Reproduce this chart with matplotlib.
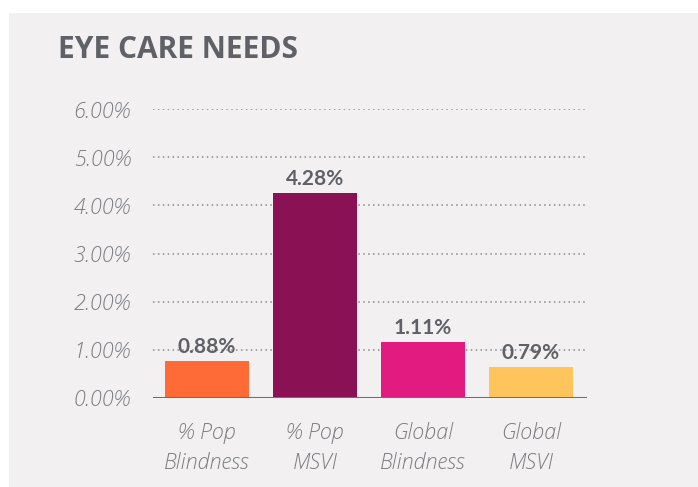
# Eye care needs - bar chart
import matplotlib.pyplot as plt
from matplotlib.patches import Rectangle

# Données
categories = ['% Pop\nBlindness', '% Pop\nMSVI', 'Global\nBlindness', 'Global\nMSVI']
hauteurs = [0.76, 4.26, 1.16, 0.64]          # hauteur des barres telle que dessinée
etiquettes = ['0.88%', '4.28%', '1.11%', '0.79%']  # valeurs affichées
couleurs = ['#ff6b37', '#8a1153', '#e21b80', '#ffc45c']
yticks = [0, 1, 2, 3, 4, 5, 6]
ytick_labels = ['0.00%', '1.00%', '2.00%', '3.00%', '4.00%', '5.00%', '6.00%']

W, H = 698, 487
fond = '#f2f0f1'
gris_texte = '#5f6166'
gris_ticks = '#7a7c80'

plt.rcParams['font.family'] = ['Lato', 'DejaVu Sans']

fig = plt.figure(figsize=(W/100, H/100), dpi=100, facecolor='white')
# panneau gris
fig.patches.append(Rectangle((9/W, -0.01), 1, 1.01 - 13/H, transform=fig.transFigure,
                             facecolor=fond, edgecolor='none', zorder=-10))

ax = fig.add_axes([153/W, (H-398)/H, (587-153)/W, (398-109)/H])
ax.set_facecolor('none')

x = list(range(len(categories)))
ax.bar(x, hauteurs, width=0.78, color=couleurs, zorder=3)

for xi, h, lab in zip(x, hauteurs, etiquettes):
    ax.annotate(lab, (xi, h), xytext=(0, 3), textcoords='offset points',
                ha='center', va='bottom', fontsize=15, fontweight='bold',
                color=gris_texte, zorder=4)

ax.set_xlim(-0.5, 3.52)
ax.set_ylim(0, 6)
ax.set_yticks(yticks)
ax.set_yticklabels(ytick_labels)
ax.set_xticks(x)
ax.set_xticklabels(categories, linespacing=1.5)

for t in ax.get_yticklabels() + ax.get_xticklabels():
    t.set_family(['Open Sans', 'DejaVu Sans'])
    t.set_fontstyle('italic')
    t.set_fontweight('light')
    t.set_color(gris_ticks)
    t.set_fontsize(15.5)

ax.tick_params(axis='y', length=0, pad=16)
ax.tick_params(axis='x', length=0, pad=17)

# grille pointillée
for yv in yticks[1:]:
    ax.axhline(yv, color='#8a8a8a', linestyle=(0, (1, 2.2)), linewidth=1.1, zorder=1)
ax.axhline(0, color='#6d6e71', linewidth=2.2, zorder=5)

for s in ax.spines.values():
    s.set_visible(False)

fig.text(58/W, (H-50)/H, 'EYE CARE NEEDS', fontsize=21.5, fontweight='bold',
         color=gris_texte, va='center', ha='left', family=['Open Sans', 'DejaVu Sans'])

fig.savefig('out.png', dpi=100, facecolor='white')
